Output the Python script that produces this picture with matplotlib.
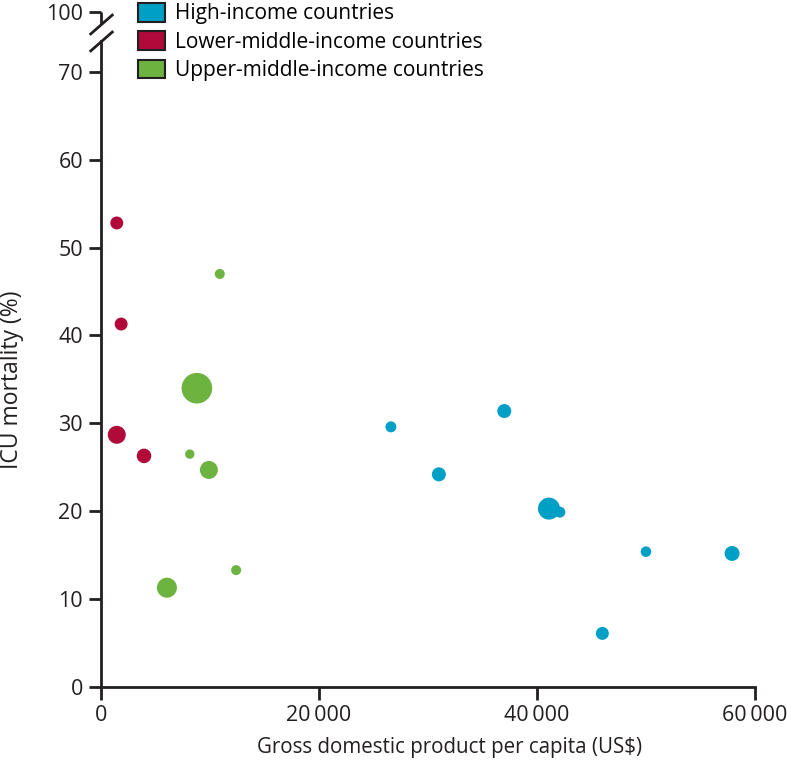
import matplotlib.pyplot as plt
from matplotlib.patches import Patch

plt.rcParams['font.family'] = ['Open Sans', 'DejaVu Sans']

# GDP per capita (US$), ICU mortality (%), relative bubble weight
high_gdp = [26600, 37000, 31000, 41100, 42100, 50000, 57900, 46000]
high_mort = [29.6, 31.4, 24.2, 20.3, 19.9, 15.4, 15.2, 6.1]
high_w = [30, 49, 49, 121, 30, 28, 56, 42]

lower_gdp = [1450, 1850, 1450, 3950]
lower_mort = [52.8, 41.3, 28.7, 26.3]
lower_w = [42, 42, 81, 53]

upper_gdp = [10900, 8800, 8150, 9900, 12400, 6050]
upper_mort = [47.0, 34.0, 26.5, 24.7, 13.3, 11.3]
upper_w = [25, 235, 22, 81, 25, 100]

groups = ['High-income countries', 'Lower-middle-income countries',
          'Upper-middle-income countries']
colors = ['#009FC5', '#B0093A', '#6DB33F']

xticks = [0, 20000, 40000, 60000]
yticks = [0, 10, 20, 30, 40, 50, 60, 70]
BREAK_POS = 76.8   # where the "100" tick sits above the axis break

fig = plt.figure(figsize=(7.87, 7.66), dpi=100)
ax = fig.add_axes([0.1283, 0.1031, 0.831, 0.8812])

for gx, gy, gw, c in zip([high_gdp, lower_gdp, upper_gdp],
                         [high_mort, lower_mort, upper_mort],
                         [high_w, lower_w, upper_w], colors):
    ax.scatter(gx, gy, s=[2.07 * w for w in gw], color=c,
               edgecolors='none', zorder=3, clip_on=False)

ax.set_xlim(0, 60000)
ax.set_ylim(0, BREAK_POS)

ax.spines['top'].set_visible(False)
ax.spines['right'].set_visible(False)
for s in ['left', 'bottom']:
    ax.spines[s].set_linewidth(2)
    ax.spines[s].set_color('#231f20')
ax.spines['left'].set_bounds(0, 73.5)

# short stub of axis above the break plus the two slashes
ax.plot([0, 0], [75.4, BREAK_POS], color='#231f20', lw=2,
        clip_on=False, solid_capstyle='butt')
for yb in [75.4, 73.5]:
    ax.plot([0], [yb], marker=[(-1, -0.875), (1, 0.875)], markersize=17,
            color='#231f20', markeredgewidth=2, clip_on=False)

ax.set_xticks(xticks)
ax.set_xticklabels(['0'] + [f'{v // 1000}\u2009000' for v in xticks[1:]])
ax.set_yticks(yticks + [BREAK_POS])
ax.set_yticklabels([str(v) for v in yticks] + ['100'])
ax.tick_params(axis='both', direction='out', length=9, width=2,
               color='#231f20', labelsize=15.5, labelcolor='#231f20', pad=4)

ax.set_xlabel('Gross domestic product per capita (US$)', fontsize=14.8,
              color='#231f20')
ax.xaxis.set_label_coords(0.533, -0.074)
ax.xaxis.label.set_va('top')
ax.set_ylabel('ICU mortality (%)', fontsize=16.5, color='#231f20')
ax.yaxis.set_label_coords(-0.117, 0.455)

handles = [Patch(facecolor=c, edgecolor='#231f20', linewidth=1.5)
           for c in colors]
fig.legend(handles, groups, loc='upper left', bbox_to_anchor=(0.165, 1.007),
           frameon=False, fontsize=15, handlelength=1.3, handleheight=1.0,
           handletextpad=0.45, labelspacing=0.33, borderaxespad=0)

fig.savefig('out.png', dpi=100)
